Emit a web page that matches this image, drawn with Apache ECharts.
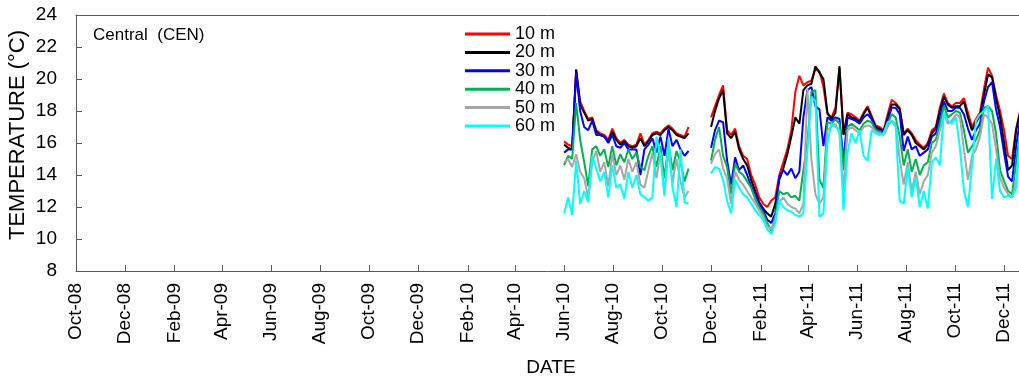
<!DOCTYPE html>
<html>
<head>
<meta charset="utf-8">
<script src="https://cdn.jsdelivr.net/npm/echarts@6/dist/echarts.min.js"></script>
<style>
  html, body { margin: 0; padding: 0; background: #fff; }
  #chart { width: 1019px; height: 383px; }
</style>
</head>
<body>
<div id="chart"></div>
<script>
// Daily water temperature at Central (CEN), sampled every five days, by depth.

// First deployment: Jun–Oct 2010
const datesA = [
  '2010-06-01','2010-06-06','2010-06-11','2010-06-16','2010-06-21','2010-06-26',
  '2010-07-01','2010-07-06','2010-07-11','2010-07-16','2010-07-21','2010-07-26','2010-07-31',
  '2010-08-05','2010-08-10','2010-08-15','2010-08-20','2010-08-25','2010-08-30',
  '2010-09-04','2010-09-09','2010-09-14','2010-09-19','2010-09-24','2010-09-29',
  '2010-10-04','2010-10-09','2010-10-14','2010-10-19','2010-10-24','2010-10-29','2010-11-03'
];
const t10A = [16.1,15.9,15.8,20.5,18.6,18.0,17.5,17.6,16.8,16.6,16.5,16.2,16.9,16.3,16.0,16.2,15.9,15.8,15.9,16.6,15.9,16.2,16.6,16.7,16.6,16.9,17.1,16.9,16.6,16.5,16.4,17.0];
const t20A = [15.9,15.7,15.6,20.6,18.4,17.9,17.4,17.5,16.7,16.5,16.4,16.1,16.7,16.2,15.9,16.1,15.8,15.7,15.8,16.3,15.8,16.1,16.5,16.6,16.5,16.8,17.0,16.8,16.5,16.4,16.3,16.6];
const t30A = [15.4,15.6,15.6,20.4,18.0,17.0,16.8,17.4,16.5,16.5,16.4,16.0,16.5,15.8,15.7,16.0,15.6,15.6,15.6,14.0,15.6,15.9,16.3,15.4,16.4,15.2,16.9,15.8,16.2,15.6,15.2,15.5];
const t40A = [14.6,15.2,15.0,18.5,16.2,14.8,13.3,15.6,15.8,15.2,15.6,14.5,15.8,14.6,15.3,14.8,15.6,15.0,15.4,14.5,14.3,15.2,15.8,14.5,15.8,13.8,16.0,14.3,15.5,14.8,13.6,14.4];
const t50A = [14.8,15.0,14.5,15.3,14.2,13.8,12.6,14.8,15.5,14.2,14.8,13.3,15.3,14.0,14.6,13.7,15.0,14.2,14.8,13.4,13.2,14.3,15.4,13.8,15.4,12.8,15.5,13.5,15.0,13.6,12.6,13.0];
const t60A = [11.6,12.6,11.5,14.9,12.2,13.0,12.3,15.2,14.4,13.6,14.2,12.6,14.6,13.2,13.4,12.5,14.2,13.2,14.0,12.8,12.6,12.4,12.6,16.4,15.2,12.7,16.3,13.2,12.0,15.6,12.3,12.2];

// Second deployment: Dec 2010 – Dec 2011
const datesB = [
  '2010-12-01','2010-12-06','2010-12-11','2010-12-16','2010-12-21','2010-12-26','2010-12-31',
  '2011-01-05','2011-01-10','2011-01-15','2011-01-20','2011-01-25','2011-01-30',
  '2011-02-04','2011-02-09','2011-02-14','2011-02-19','2011-02-24',
  '2011-03-01','2011-03-06','2011-03-11','2011-03-16','2011-03-21','2011-03-26','2011-03-31',
  '2011-04-05','2011-04-10','2011-04-15','2011-04-20','2011-04-25','2011-04-30',
  '2011-05-05','2011-05-10','2011-05-15','2011-05-20','2011-05-25','2011-05-30',
  '2011-06-04','2011-06-09','2011-06-14','2011-06-19','2011-06-24','2011-06-29',
  '2011-07-04','2011-07-09','2011-07-14','2011-07-19','2011-07-24','2011-07-29',
  '2011-08-03','2011-08-08','2011-08-13','2011-08-18','2011-08-23','2011-08-28',
  '2011-09-02','2011-09-07','2011-09-12','2011-09-17','2011-09-22','2011-09-27',
  '2011-10-02','2011-10-07','2011-10-12','2011-10-17','2011-10-22','2011-10-27',
  '2011-11-01','2011-11-06','2011-11-11','2011-11-16','2011-11-21','2011-11-26',
  '2011-12-01','2011-12-06','2011-12-11','2011-12-16','2011-12-21'
];
const t10B = [17.6,18.3,19.0,19.6,16.8,16.5,16.9,15.8,15.2,15.0,14.0,13.4,12.6,12.2,12.0,12.4,12.6,14.0,14.8,15.6,16.8,19.2,20.2,19.6,19.8,19.9,20.6,20.5,19.5,17.8,17.6,18.2,20.7,16.6,17.9,17.8,17.6,17.4,17.9,18.3,17.7,17.1,17.0,16.8,17.8,18.7,18.5,18.2,16.6,16.9,16.6,16.2,15.9,15.7,16.0,16.8,17.0,18.2,19.1,18.5,18.3,18.5,18.5,18.8,17.9,17.0,17.5,17.9,19.4,20.7,20.2,19.0,18.0,16.8,15.2,15.0,16.9,18.0];
const t20B = [17.0,18.0,18.8,19.3,16.6,16.3,16.7,15.6,15.0,14.6,13.7,13.0,12.3,11.9,11.6,11.4,12.2,13.7,14.4,15.3,16.4,17.6,17.2,19.3,19.6,19.7,20.8,20.4,20.0,17.9,17.5,17.9,20.8,16.5,17.8,17.6,17.5,17.3,17.8,18.2,17.6,17.0,16.9,16.7,17.6,18.4,18.4,18.1,16.5,16.8,16.5,16.0,15.8,15.6,15.9,16.6,16.9,18.0,18.9,18.4,18.2,18.3,18.3,18.6,17.6,16.8,17.3,17.7,19.0,20.3,20.1,18.8,17.6,16.0,14.3,14.6,16.8,17.9];
const t30B = [15.7,16.8,17.4,17.3,14.9,13.4,15.1,14.3,14.6,14.0,13.3,12.8,12.2,11.8,11.2,11.0,11.6,13.9,14.3,14.0,14.4,13.8,14.2,17.6,19.3,19.5,18.3,18.1,15.8,17.6,17.4,17.6,17.5,14.9,17.6,17.5,17.4,17.2,17.6,17.8,17.5,16.9,16.8,16.7,17.4,18.2,18.2,17.8,15.5,16.4,15.6,15.8,15.2,15.4,15.6,16.4,16.6,17.6,18.6,18.0,18.0,18.2,18.2,17.8,16.9,16.2,16.8,17.2,18.6,19.5,19.8,18.1,17.0,15.4,13.9,13.6,15.8,17.5];
const t40B = [14.9,16.2,17.0,15.2,14.5,12.8,14.7,14.2,14.0,13.6,13.2,12.5,12.0,11.6,11.0,10.5,11.4,13.0,12.8,12.9,12.6,12.7,12.4,14.3,16.0,19.2,19.3,13.7,13.2,17.3,17.2,17.5,17.2,14.3,17.0,17.2,17.0,16.8,17.2,17.4,17.3,16.8,16.7,16.6,17.2,17.8,17.6,16.4,14.6,15.6,14.2,15.0,14.0,14.6,14.8,16.0,16.2,17.2,18.3,17.6,17.8,18.0,17.9,16.8,15.4,15.8,16.2,16.8,18.2,18.3,18.0,16.6,14.3,13.6,13.0,12.8,14.8,16.6];
const t50B = [14.7,15.3,15.6,14.4,13.8,12.2,14.2,13.7,13.4,13.0,12.6,12.2,11.8,11.4,10.8,10.6,11.2,12.3,12.6,12.2,12.0,11.9,11.6,12.2,19.4,15.0,12.8,12.2,12.6,16.8,17.0,17.2,16.6,13.0,16.8,17.0,16.8,16.6,17.0,17.1,17.0,16.7,16.6,16.5,17.0,17.4,17.2,15.0,13.4,14.8,13.0,14.2,12.8,13.6,14.0,15.4,15.8,16.8,17.8,17.2,17.4,17.8,17.6,15.6,13.7,15.2,15.6,16.4,17.8,17.6,17.2,15.6,13.8,13.2,12.8,12.6,13.6,15.8];
const t60B = [14.1,14.5,14.4,13.7,12.4,11.6,13.7,13.2,12.8,12.6,12.2,11.8,11.5,11.2,10.6,10.3,11.0,12.4,12.0,11.8,11.7,11.5,11.4,11.6,15.5,18.9,18.6,11.4,11.6,16.0,17.2,17.0,16.8,11.8,15.4,16.6,16.0,16.8,15.2,14.9,16.8,16.6,16.5,16.6,17.3,17.4,17.0,12.4,12.2,14.5,12.6,13.8,12.0,13.0,11.9,14.8,15.1,14.6,17.9,17.4,17.2,17.6,15.7,13.0,12.0,14.5,17.4,17.8,18.0,18.3,12.5,15.0,13.0,12.6,12.7,12.6,13.2,16.6];

// Date axis: labelled every second month
const tickDates = [
  '2008-10-01','2008-12-01','2009-02-01','2009-04-01','2009-06-01','2009-08-01',
  '2009-10-01','2009-12-01','2010-02-01','2010-04-01','2010-06-01','2010-08-01',
  '2010-10-01','2010-12-01','2011-02-01','2011-04-01','2011-06-01','2011-08-01',
  '2011-10-01','2011-12-01'
];
const tickLabels = [
  'Oct-08','Dec-08','Feb-09','Apr-09','Jun-09','Aug-09','Oct-09','Dec-09','Feb-10','Apr-10',
  'Jun-10','Aug-10','Oct-10','Dec-10','Feb-11','Apr-11','Jun-11','Aug-11','Oct-11','Dec-11'
];

const depthNames = ['10 m', '20 m', '30 m', '40 m', '50 m', '60 m'];
const depthColors = ['#ff0000', '#000000', '#0000ff', '#00b050', '#a6a6a6', '#00ffff'];
const seriesA = [t10A, t20A, t30A, t40A, t50A, t60A];
const seriesB = [t10B, t20B, t30B, t40B, t50B, t60B];

// Dates become day numbers (UTC) so the axis is linear in time
const DAY = 86400000;
function parseDay(s) {
  const p = s.split('-').map(Number);
  return Math.round(Date.UTC(p[0], p[1] - 1, p[2]) / DAY);
}
const tickValues = tickDates.map(parseDay);
const dayMin = parseDay('2008-10-01');
const dayMax = parseDay('2011-12-19') + 0.6; // plot is cut off at the right edge

function buildData(a, b) {
  const out = datesA.map((d, i) => [parseDay(d), a[i]]);
  out.push([parseDay('2010-11-17'), null]); // no record between deployments
  datesB.forEach((d, i) => out.push([parseDay(d), b[i]]));
  return out;
}

const font = 'Liberation Sans, Arial, sans-serif';
const axisColor = '#595959';

const chart = echarts.init(document.getElementById('chart'), null, { renderer: 'canvas' });
chart.setOption({
  animation: false,
  backgroundColor: '#fff',
  grid: { left: 76, top: 15, right: 0, bottom: 112 },
  legend: {
    orient: 'vertical',
    left: 465, top: 25,
    padding: 0,
    icon: 'rect',
    itemWidth: 45, itemHeight: 3,
    itemGap: 0.4,
    textStyle: { fontFamily: font, fontSize: 18, color: '#000', lineHeight: 18 },
    data: depthNames
  },
  xAxis: [
    {
      type: 'value',
      min: dayMin, max: dayMax,
      axisLine: { show: true, onZero: false, lineStyle: { color: axisColor, width: 1 } },
      axisTick: { show: true, inside: true, length: 6, customValues: tickValues, lineStyle: { color: axisColor } },
      splitLine: { show: false },
      axisLabel: {
        customValues: tickValues,
        rotate: 90,
        margin: 12,
        fontFamily: font, fontSize: 19, color: '#000',
        hideOverlap: false,
        formatter: function (v) {
          const i = tickValues.indexOf(Math.round(v));
          return i >= 0 ? tickLabels[i] : '';
        }
      }
    },
    {
      // top frame line of the plot area
      type: 'value', position: 'top',
      min: dayMin, max: dayMax,
      axisLine: { show: true, onZero: false, lineStyle: { color: axisColor, width: 1 } },
      axisTick: { show: false }, axisLabel: { show: false }, splitLine: { show: false }
    }
  ],
  yAxis: {
    type: 'value',
    min: 8, max: 24, interval: 2,
    axisLine: { show: true, lineStyle: { color: axisColor, width: 1 } },
    axisTick: { show: true, inside: true, length: 6, lineStyle: { color: axisColor } },
    splitLine: { show: false },
    axisLabel: { margin: 19, fontFamily: font, fontSize: 19, color: '#000' }
  },
  graphic: [
    {
      type: 'text', left: 93, top: 27,
      style: { text: 'Central  (CEN)', font: '17px ' + font, fill: '#000' }
    },
    {
      type: 'text', x: 18, y: 135, rotation: Math.PI / 2,
      style: { text: 'TEMPERATURE (°C)', font: '22px ' + font, fill: '#000', align: 'center', verticalAlign: 'middle' }
    },
    {
      type: 'text', x: 551, y: 368,
      style: { text: 'DATE', font: '19px ' + font, fill: '#000', align: 'center', verticalAlign: 'middle' }
    }
  ],
  series: depthNames.map((name, i) => ({
    name: name,
    type: 'line',
    xAxisIndex: 0,
    showSymbol: false,
    connectNulls: false,
    color: depthColors[i],
    lineStyle: { width: 2, color: depthColors[i] },
    data: buildData(seriesA[i], seriesB[i])
  }))
});
</script>
</body>
</html>
